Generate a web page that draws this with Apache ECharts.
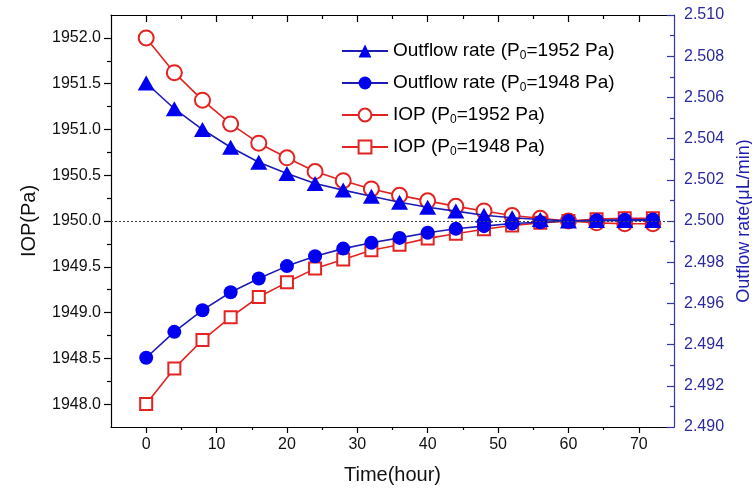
<!DOCTYPE html>
<html><head><meta charset="utf-8">
<script src="https://cdn.jsdelivr.net/npm/echarts@6/dist/echarts.min.js"></script>
<style>html,body{margin:0;padding:0;background:#fff}#c{width:752px;height:493px}</style>
</head><body><div id="c"></div>
<script>
// ---- data ----
const time = [0,4,8,12,16,20,24,28,32,36,40,44,48,52,56,60,64,68,72];
const iop1952 = [1952.00,1951.62,1951.32,1951.06,1950.85,1950.69,1950.54,1950.44,1950.35,1950.28,1950.22,1950.16,1950.11,1950.06,1950.03,1950.00,1949.98,1949.97,1949.97];
const iop1948 = [1948.00,1948.39,1948.70,1948.95,1949.17,1949.33,1949.48,1949.58,1949.68,1949.74,1949.81,1949.86,1949.91,1949.95,1949.98,1950.00,1950.02,1950.03,1950.03];
const out1952 = [2.50670,2.50545,2.50444,2.50358,2.50285,2.50231,2.50182,2.50150,2.50120,2.50091,2.50067,2.50048,2.50028,2.50016,2.50007,2.50000,2.50002,2.50003,2.50003];
const out1948 = [2.49336,2.49462,2.49567,2.49654,2.49721,2.49781,2.49829,2.49866,2.49894,2.49918,2.49943,2.49962,2.49975,2.49988,2.49994,2.50000,2.50004,2.50006,2.50007];
const seriesNames = ['Outflow rate (P0=1952 Pa)','Outflow rate (P0=1948 Pa)','IOP (P0=1952 Pa)','IOP (P0=1948 Pa)'];
const xMajorTicks = [0,10,20,30,40,50,60,70];
const xMinorTicks = [5,15,25,35,45,55,65];
const iopTicks = [1948.0,1948.5,1949.0,1949.5,1950.0,1950.5,1951.0,1951.5,1952.0];
const iopMinorTicks = [1948.25,1948.75,1949.25,1949.75,1950.25,1950.75,1951.25,1951.75];
const refLine = 1950.0;

// ---- chart ----
const FONT = '"Liberation Sans", Arial, sans-serif';
const BLUE = '#0000f0', BLUE_LINE = '#1c1cb4', RED = '#e32222', AXBLUE = '#3434b0', LBLUE = '#2a2a9c';
const pair = a => time.map((t, i) => [t, a[i]]);
const chart = echarts.init(document.getElementById('c'));

const xBase = {type: 'value', min: -5, max: 75, gridIndex: 0, splitLine: {show: false}};
const yIop = {type: 'value', min: 1947.75, max: 1952.25, splitLine: {show: false}};

chart.setOption({
  animation: false,
  backgroundColor: '#fff',
  textStyle: {fontFamily: FONT},
  grid: {left: 111, right: 78, top: 15, bottom: 66, containLabel: false, outerBoundsMode: 'none'},
  legend: {
    orient: 'vertical', left: 336, top: 35, itemWidth: 46, itemHeight: 16, itemGap: 10,
    data: seriesNames,
    formatter: n => n.replace('P0', 'P{sub|0}'),
    textStyle: {fontFamily: FONT, fontSize: 19, color: '#000', lineHeight: 22,
      rich: {sub: {fontFamily: FONT, fontSize: 12, color: '#000', verticalAlign: 'bottom', padding: [10, 0, 0, 0]}}}
  },
  xAxis: [
    Object.assign({}, xBase, {position: 'bottom',
      axisLine: {show: true, onZero: false, lineStyle: {color: '#000', width: 1.2}},
      axisTick: {show: true, inside: false, length: 6, customValues: xMajorTicks, lineStyle: {color: '#000', width: 1.2}},
      axisLabel: {customValues: xMajorTicks, color: '#111', fontSize: 16, margin: 10, fontFamily: FONT},
      name: 'Time(hour)', nameLocation: 'middle', nameGap: 38,
      nameTextStyle: {fontSize: 20, color: '#111', fontFamily: FONT}}),
    Object.assign({}, xBase, {position: 'bottom',
      axisLine: {show: false, onZero: false},
      axisTick: {show: true, inside: false, length: 3, customValues: xMinorTicks, lineStyle: {color: '#000', width: 1.2}},
      axisLabel: {show: false}}),
    Object.assign({}, xBase, {position: 'top',
      axisLine: {show: true, onZero: false, lineStyle: {color: '#000', width: 1.2}},
      axisTick: {show: true, inside: true, length: 7, customValues: xMajorTicks, lineStyle: {color: '#000', width: 1.2}},
      axisLabel: {show: false}}),
    Object.assign({}, xBase, {position: 'top',
      axisLine: {show: false, onZero: false},
      axisTick: {show: true, inside: true, length: 4, customValues: xMinorTicks, lineStyle: {color: '#000', width: 1.2}},
      axisLabel: {show: false}})
  ],
  yAxis: [
    Object.assign({}, yIop, {position: 'left',
      axisLine: {show: true, onZero: false, lineStyle: {color: '#000', width: 1.2}},
      axisTick: {show: true, inside: false, length: 7, customValues: iopTicks, lineStyle: {color: '#000', width: 1.2}},
      axisLabel: {customValues: iopTicks, formatter: v => (+v).toFixed(1), color: '#111', fontSize: 16, margin: 10, fontFamily: FONT},
      name: 'IOP(Pa)', nameLocation: 'middle', nameGap: 72, nameRotate: 90,
      nameTextStyle: {fontSize: 20, color: '#111', fontFamily: FONT}}),
    Object.assign({}, yIop, {position: 'left',
      axisLine: {show: false, onZero: false},
      axisTick: {show: true, inside: false, length: 4, customValues: iopMinorTicks, lineStyle: {color: '#000', width: 1.2}},
      axisLabel: {show: false}}),
    {type: 'value', position: 'right', min: 2.490, max: 2.510, interval: 0.002, splitLine: {show: false},
      axisLine: {show: true, onZero: false, lineStyle: {color: AXBLUE, width: 1.2}},
      axisTick: {show: true, inside: true, length: 7, lineStyle: {color: AXBLUE, width: 1.2}},
      minorTick: {show: true, splitNumber: 2, length: 4, lineStyle: {color: AXBLUE, width: 1.2}},
      axisLabel: {formatter: v => (+v).toFixed(3), color: LBLUE, fontSize: 16, margin: 10, fontFamily: FONT},
      name: 'Outflow rate(\u03bcL/min)', nameLocation: 'middle', nameGap: 56, nameRotate: 90,
      nameTextStyle: {fontSize: 18, color: '#1e1eb0', fontFamily: FONT}}
  ],
  series: [
    {name: seriesNames[2], type: 'line', xAxisIndex: 0, yAxisIndex: 0, data: pair(iop1952),
      symbol: 'emptyCircle', symbolSize: 15, lineStyle: {color: RED, width: 1.6},
      itemStyle: {color: RED, borderColor: RED, borderWidth: 1.6}, z: 2,
      markLine: {silent: true, symbol: 'none', label: {show: false},
        lineStyle: {color: '#444', width: 1, type: [2, 2]}, data: [{yAxis: refLine}]}},
    {name: seriesNames[3], type: 'line', xAxisIndex: 0, yAxisIndex: 0, data: pair(iop1948),
      symbol: 'emptyRect', symbolSize: 12, lineStyle: {color: RED, width: 1.6},
      itemStyle: {color: RED, borderColor: RED, borderWidth: 1.6}, z: 2},
    {name: seriesNames[0], type: 'line', xAxisIndex: 0, yAxisIndex: 2, data: pair(out1952),
      symbol: 'triangle', symbolSize: [17, 15], lineStyle: {color: BLUE_LINE, width: 1.6},
      itemStyle: {color: BLUE}, z: 3},
    {name: seriesNames[1], type: 'line', xAxisIndex: 0, yAxisIndex: 2, data: pair(out1948),
      symbol: 'circle', symbolSize: 14, lineStyle: {color: BLUE_LINE, width: 1.6},
      itemStyle: {color: BLUE}, z: 3}
  ]
});
</script></body></html>
